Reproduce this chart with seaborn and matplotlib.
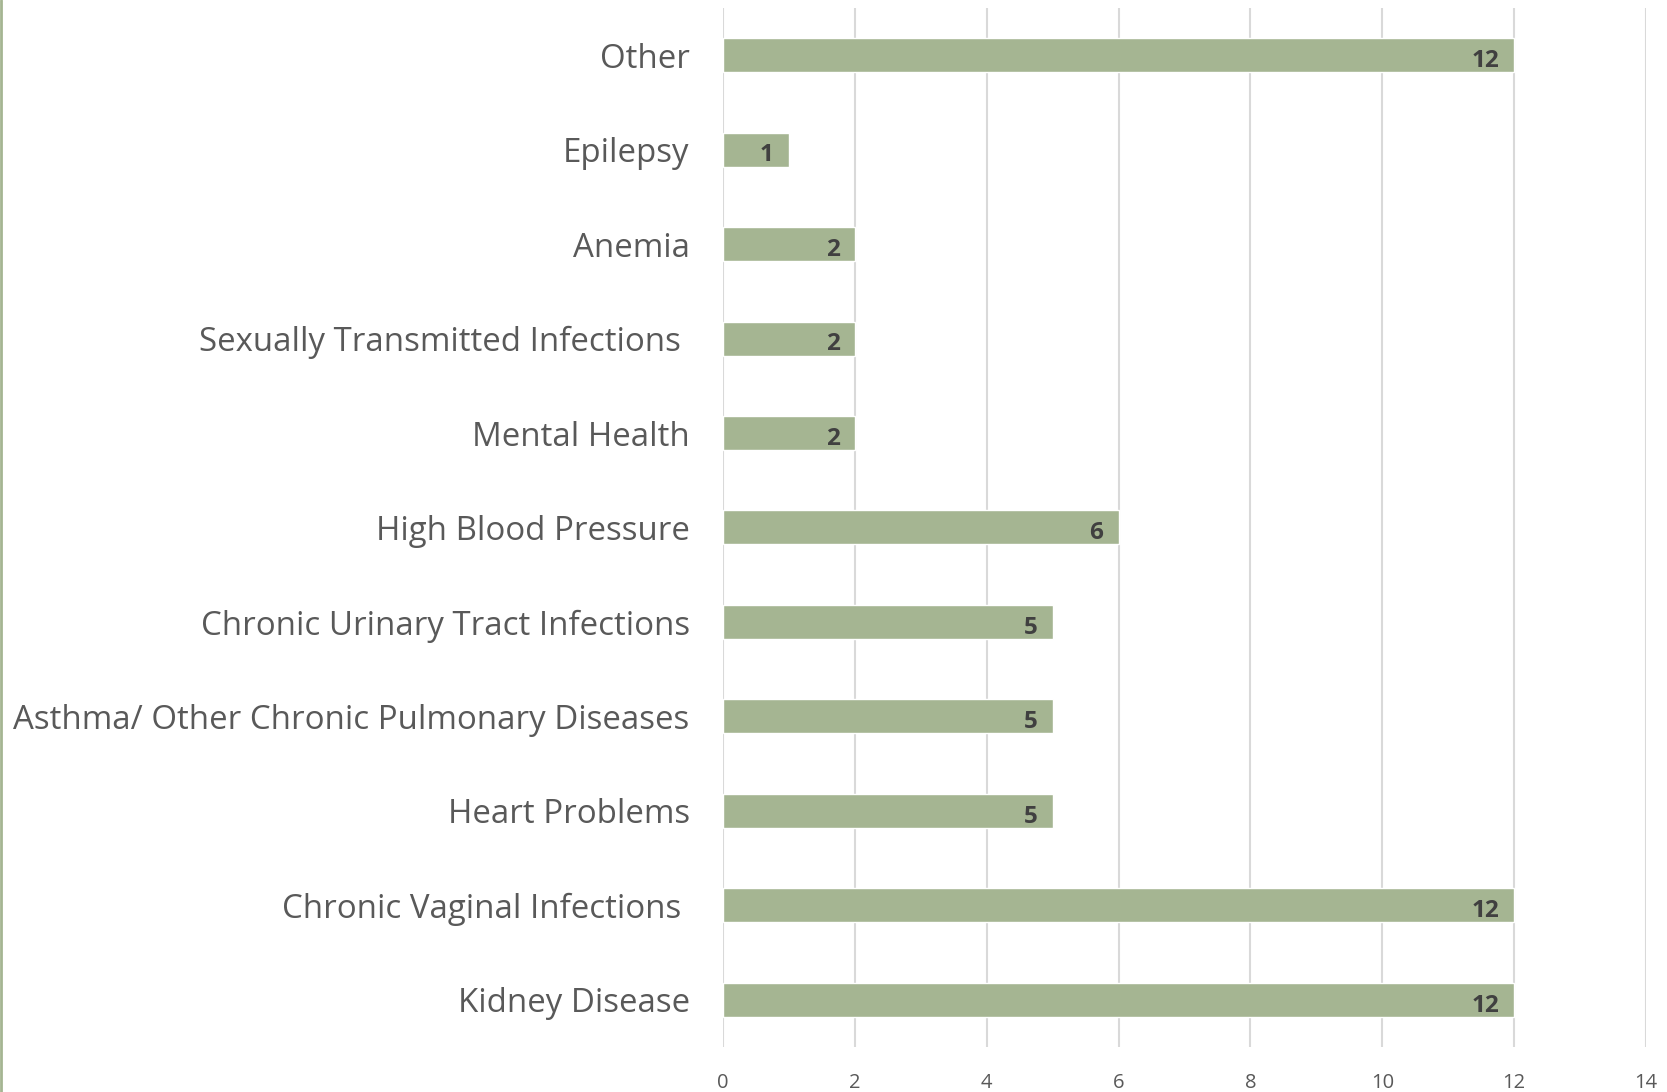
import matplotlib
matplotlib.use("Agg")
import matplotlib.pyplot as plt
import pandas as pd
import seaborn as sns
from matplotlib.lines import Line2D

# data, listed top to bottom as shown in the chart
conditions = [
    "Other",
    "Epilepsy",
    "Anemia",
    "Sexually Transmitted Infections ",
    "Mental Health",
    "High Blood Pressure",
    "Chronic Urinary Tract Infections",
    "Asthma/ Other Chronic Pulmonary Diseases",
    "Heart Problems",
    "Chronic Vaginal Infections ",
    "Kidney Disease",
]
counts = [12, 1, 2, 2, 2, 6, 5, 5, 5, 12, 12]
x_ticks = [0, 2, 4, 6, 8, 10, 12, 14]

BAR_COLOR = "#A5B592"
TEXT_COLOR = "#595959"
LABEL_COLOR = "#404040"
GRID_COLOR = "#D9D9D9"

sns.set_theme(style="white")
plt.rcParams["font.family"] = ["Open Sans", "DejaVu Sans"]

df = pd.DataFrame({"condition": conditions, "count": counts})

fig = plt.figure(figsize=(16.67, 10.92), dpi=100)
ax = fig.add_axes([0.4337, 0.0412, 0.9874 - 0.4337, 0.9927 - 0.0412])

sns.barplot(data=df, x="count", y="condition", color=BAR_COLOR, saturation=1,
            width=0.36, ax=ax, zorder=3)

ax.set_xlim(0, 14)
ax.set_ylim(len(conditions) - 0.5, -0.5)
ax.set_xticks(x_ticks)
ax.set_xlabel("")
ax.set_ylabel("")
for s in ax.spines.values():
    s.set_visible(False)
ax.grid(axis="x", color=GRID_COLOR, linewidth=1.5, zorder=0)
ax.grid(axis="y", visible=False)
ax.tick_params(axis="x", length=0, pad=19, labelsize=14.5, labelcolor=TEXT_COLOR)
ax.tick_params(axis="y", length=0, pad=24, labelsize=23.8, labelcolor=TEXT_COLOR)

# value labels, right-aligned just inside the end of each bar
for cont in ax.containers:
    anns = ax.bar_label(cont, labels=[str(v) for v in counts], label_type="edge",
                        padding=-11, fontsize=17.5, fontweight="bold",
                        color=LABEL_COLOR)
    for a in anns:
        a.set_ha("right")
        a.set_va("center_baseline")
        a.xyann = (-11, -2)

# thin green border on the left edge
fig.add_artist(Line2D([0.0008, 0.0008], [0, 1], transform=fig.transFigure,
                      color=BAR_COLOR, linewidth=2))

fig.savefig("out.png", dpi=100)
